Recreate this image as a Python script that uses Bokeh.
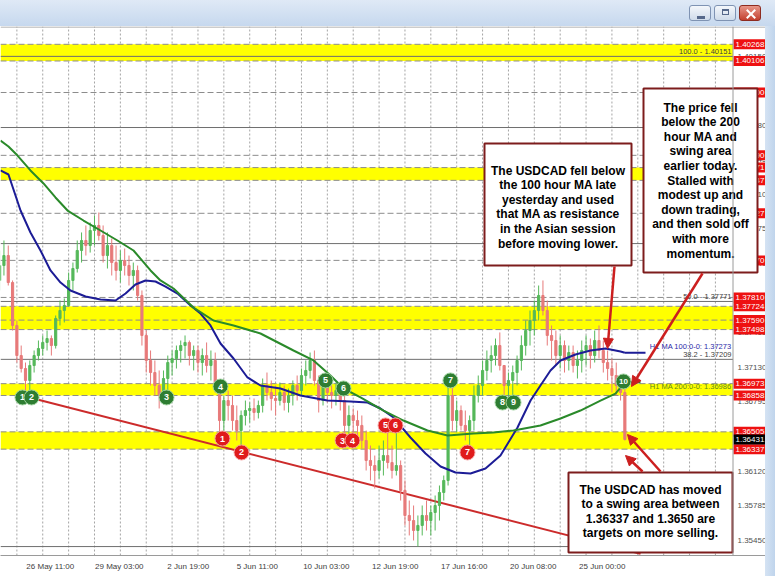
from bokeh.plotting import figure
from bokeh.models import ColumnDataSource, Arrow, NormalHead, FixedTicker, Div, Range1d, Span
from bokeh.layouts import column, row
from bokeh.embed import file_html
from bokeh.resources import INLINE
from bokeh.core.properties import value

FONT = value("Liberation Sans")

# ---------------- data ----------------
# 4-hour candles; hour index counted in trading hours from 26 May 11:00
bar_hours = list(range(-24, 557, 4))
first_open = 1.37975
bar_high = [1.38266, 1.38363,
            1.38314, 1.37975, 1.37586, 1.37343, 1.37178, 1.37198, 1.37295, 1.37392, 1.37441, 1.37489,
            1.37441, 1.37635, 1.37780, 1.37800, 1.38052, 1.38149, 1.38363, 1.38441, 1.38509, 1.38538,
            1.38606, 1.38635, 1.38509, 1.38441, 1.38382, 1.38314, 1.38266, 1.38285, 1.38217, 1.38149,
            1.38120, 1.37878, 1.37489, 1.37295, 1.37198, 1.37101, 1.37101, 1.37246, 1.37295, 1.37343,
            1.37392, 1.37441, 1.37392, 1.37343, 1.37343, 1.37314, 1.37373, 1.37295, 1.37275, 1.37004,
            1.36858, 1.36906, 1.36858, 1.36761, 1.36712, 1.36809, 1.36790, 1.36829, 1.36809, 1.37023,
            1.37081, 1.37004, 1.36955, 1.36984, 1.36955, 1.36926, 1.37004, 1.37052, 1.37120, 1.37198,
            1.37275, 1.37295, 1.37052, 1.37023, 1.37004, 1.36955, 1.36984, 1.36955, 1.36858, 1.36761,
            1.36732, 1.36712, 1.36664, 1.36518, 1.36372, 1.36275, 1.36372, 1.36421, 1.36567, 1.36372,
            1.36567, 1.36227, 1.36033, 1.35838, 1.35790, 1.35693, 1.35790, 1.35838, 1.35790, 1.35887,
            1.35984, 1.36081, 1.37004, 1.37023, 1.36809, 1.36761, 1.36712, 1.36664, 1.36955, 1.37052,
            1.37198, 1.37295, 1.37343, 1.37411, 1.37470, 1.37149, 1.37081, 1.37149, 1.37246, 1.37441,
            1.37586, 1.37683, 1.37780, 1.37926, 1.37975, 1.37780, 1.37538, 1.37489, 1.37441, 1.37392,
            1.37343, 1.37343, 1.37295, 1.37392, 1.37441, 1.37411, 1.37489, 1.37538, 1.37392, 1.37295,
            1.37217, 1.37178, 1.37052, 1.36955]
bar_low = [1.37878, 1.38023,
           1.37926, 1.37489, 1.37178, 1.37081, 1.36858, 1.36887, 1.37081, 1.37198, 1.37246, 1.37295,
           1.37246, 1.37314, 1.37538, 1.37567, 1.37722, 1.37878, 1.38052, 1.38149, 1.38217, 1.38246,
           1.38314, 1.38363, 1.38149, 1.38091, 1.38023, 1.37975, 1.37955, 1.38023, 1.37926, 1.37878,
           1.37780, 1.37343, 1.37081, 1.36955, 1.36858, 1.36732, 1.36809, 1.36887, 1.37052, 1.37120,
           1.37178, 1.37217, 1.37149, 1.37101, 1.37081, 1.37052, 1.37081, 1.37004, 1.36887, 1.36499,
           1.36518, 1.36615, 1.36518, 1.36421, 1.36372, 1.36567, 1.36596, 1.36615, 1.36635, 1.36693,
           1.36809, 1.36712, 1.36664, 1.36761, 1.36712, 1.36693, 1.36761, 1.36809, 1.36858, 1.36955,
           1.37023, 1.36955, 1.36693, 1.36761, 1.36790, 1.36732, 1.36761, 1.36712, 1.36440, 1.36421,
           1.36421, 1.36470, 1.36343, 1.36130, 1.36033, 1.35955, 1.36052, 1.36081, 1.36149, 1.36052,
           1.36081, 1.35838, 1.35596, 1.35499, 1.35450, 1.35392, 1.35499, 1.35547, 1.35499, 1.35547,
           1.35644, 1.35838, 1.35984, 1.36518, 1.36499, 1.36518, 1.36421, 1.36372, 1.36518, 1.36790,
           1.36858, 1.37004, 1.37081, 1.37149, 1.37101, 1.36829, 1.36829, 1.36858, 1.36955, 1.37101,
           1.37246, 1.37343, 1.37441, 1.37586, 1.37635, 1.37343, 1.37198, 1.37149, 1.37120, 1.37081,
           1.37101, 1.37081, 1.37023, 1.37081, 1.37149, 1.37120, 1.37178, 1.37217, 1.37081, 1.37004,
           1.36887, 1.36858, 1.36809, 1.36421]
bar_close = [1.38120, 1.38217,
             1.37955, 1.37538, 1.37246, 1.37120, 1.37004, 1.37149, 1.37246, 1.37314, 1.37373, 1.37411,
             1.37343, 1.37606, 1.37683, 1.37732, 1.37975, 1.38091, 1.38266, 1.38363, 1.38314, 1.38460,
             1.38509, 1.38412, 1.38217, 1.38314, 1.38149, 1.38072, 1.38169, 1.38120, 1.38023, 1.38072,
             1.37829, 1.37441, 1.37198, 1.37081, 1.36955, 1.36858, 1.37023, 1.37178, 1.37217, 1.37295,
             1.37343, 1.37373, 1.37246, 1.37295, 1.37178, 1.37246, 1.37149, 1.37198, 1.36955, 1.36615,
             1.36809, 1.36761, 1.36615, 1.36518, 1.36664, 1.36712, 1.36732, 1.36693, 1.36761, 1.36955,
             1.36887, 1.36829, 1.36809, 1.36887, 1.36790, 1.36858, 1.36955, 1.36906, 1.37052, 1.37101,
             1.37198, 1.37004, 1.36809, 1.36955, 1.36887, 1.36858, 1.36906, 1.36809, 1.36567, 1.36664,
             1.36615, 1.36567, 1.36421, 1.36227, 1.36178, 1.36130, 1.36227, 1.36275, 1.36207, 1.36130,
             1.36178, 1.35936, 1.35693, 1.35644, 1.35547, 1.35596, 1.35693, 1.35644, 1.35722, 1.35790,
             1.35916, 1.36033, 1.36858, 1.36615, 1.36712, 1.36567, 1.36518, 1.36615, 1.36858, 1.36955,
             1.37101, 1.37198, 1.37246, 1.37343, 1.37149, 1.36955, 1.37004, 1.37081, 1.37198, 1.37343,
             1.37489, 1.37586, 1.37683, 1.37829, 1.37683, 1.37441, 1.37392, 1.37246, 1.37343, 1.37198,
             1.37275, 1.37149, 1.37198, 1.37295, 1.37343, 1.37246, 1.37392, 1.37295, 1.37178, 1.37120,
             1.37052, 1.36955, 1.36887, 1.36431]

ma100_hours = [-23.2, -15.8, -4.6, 4.6, 13.9, 23.2, 32.5, 41.7, 55.7, 69.6, 83.5, 92.8, 102.0, 111.3, 120.6,
               129.9, 141.0, 153.1, 162.3, 171.6, 180.9, 193.0, 205.9, 218.0, 236.5, 255.1, 280.1,
               301.5, 317.3, 329.3, 341.4, 357.1, 371.1, 385.0, 398.9, 412.8, 426.7, 440.6, 456.4,
               468.5, 477.7, 487.0, 496.3, 510.2, 524.1, 538.0, 552.0, 556.0]
ma100 = [1.39043, 1.39004, 1.38654, 1.38441, 1.38266, 1.38072, 1.37955, 1.37878, 1.37819, 1.37790, 1.37780,
         1.37848, 1.37936, 1.37975, 1.37965, 1.37916, 1.37848, 1.37732, 1.37654, 1.37538, 1.37363,
         1.37217, 1.37033, 1.36955, 1.36926, 1.36858, 1.36809, 1.36800, 1.36790, 1.36732, 1.36644,
         1.36450, 1.36295, 1.36169, 1.36110, 1.36100, 1.36149, 1.36275, 1.36547, 1.36809, 1.36955,
         1.37101, 1.37198, 1.37256, 1.37295, 1.37314, 1.37285, 1.37273]
ma200_hours = [-23.2, -15.8, -7.4, 4.6, 16.7, 27.8, 39.0, 53.8, 69.6, 85.3, 100.2, 116.0, 125.2, 137.3, 155.8,
               174.4, 193.0, 218.0, 248.6, 267.2, 282.9, 295.0, 310.8, 332.1, 350.6, 372.9, 391.5,
               415.6, 434.1, 452.7, 477.7, 496.3, 514.8, 533.4, 547.3, 556.0]
ma200 = [1.39334, 1.39276, 1.39188, 1.39043, 1.38917, 1.38781, 1.38654, 1.38557, 1.38460, 1.38363, 1.38266,
         1.38072, 1.37975, 1.37897, 1.37712, 1.37586, 1.37538, 1.37460, 1.37295, 1.37198, 1.37052,
         1.36926, 1.36839, 1.36712, 1.36615, 1.36518, 1.36470, 1.36489, 1.36499, 1.36518, 1.36567,
         1.36635, 1.36712, 1.36809, 1.36877, 1.36986]
ma100_label = "H1 MA 100:0-0: 1.37273"
ma200_label = "H1 MA 200:0-0: 1.36986"

time_label_hours = [0, 64, 128, 192, 256, 320, 384, 448, 512]
time_labels = ["26 May 11:00", "29 May 03:00", "2 Jun 19:00", "5 Jun 11:00", "10 Jun 03:00",
               "12 Jun 19:00", "17 Jun 16:00", "20 Jun 08:00", "25 Jun 00:00"]

price_ticks = [1.35450, 1.35785, 1.36120, 1.36455, 1.36795, 1.37130, 1.37465, 1.37800, 1.38140,
               1.38475, 1.38810, 1.39145, 1.39480, 1.39815, 1.40150]
red_levels = [1.40268, 1.40106, 1.39800, 1.39190, 1.39071, 1.38947, 1.38627, 1.38170, 1.37810,
              1.37724, 1.37590, 1.37498, 1.36973, 1.36858, 1.36505, 1.36337]
current_price = 1.36431

zones = [(1.40268, 1.40106), (1.39071, 1.38947), (1.37724, 1.37498), (1.36973, 1.36858), (1.36505, 1.36337)]
single_lines = [1.39800, 1.39190, 1.38627, 1.38170, 1.37810, 1.37590]
fib_levels = [1.40151, 1.39460, 1.38333, 1.37771, 1.37209, 1.35391]
fib_labels = ["100.0 - 1.40151", "", "", "50.0 - 1.37771", "38.2 - 1.37209", ""]

trend_hours = [7.4, 570.5]
trend_prices = [1.36829, 1.35320]

green_hours = [-2.8, 5.6, 130.8, 180.9, 278.3, 295.0, 394.2, 442.5, 452.7, 554.7]
green_prices = [1.36839, 1.36839, 1.36839, 1.36945, 1.37004, 1.36926, 1.37004, 1.36790, 1.36790, 1.36994]
green_labels = ["1", "2", "3", "4", "5", "6", "7", "8", "9", "10"]
red_hours = [182.7, 200.4, 294.1, 303.3, 334.0, 343.2, 410.0]
red_prices = [1.36440, 1.36305, 1.36421, 1.36421, 1.36567, 1.36567, 1.36305]
red_labels = ["1", "2", "3", "4", "5", "6", "7"]

note_a = ["The USDCAD fell below", "the 100 hour MA late", "yesterday and used",
          "that MA as resistance", "in the Asian session", "before moving lower."]
note_b = ["The price fell", "below the 200", "hour MA and", "swing area", "earlier today.",
          "Stalled with", "modest up and", "down trading,", "and then sold off", "with more", "momentum."]
note_c = ["The USDCAD has moved", "to a swing area between", "1.36337 and 1.3650 are",
          "targets on more selling."]

# ---------------- layout helpers (screen pixel -> data) ----------------
X0_PX, PX_PER_HOUR = 25.0, 1.078
Y_TOP_PRICE, PRICE_PER_PX = 1.406934, 0.0000971


def hx(px):
    return (px - X0_PX) / PX_PER_HOUR


def py(px):
    return Y_TOP_PRICE - px * PRICE_PER_PX


FIG_W, FIG_H = 765, 550
XL, XR = hx(0), hx(FIG_W)
YB, YT = py(555), py(26)
CHART_R = hx(732.5)

p = figure(width=FIG_W, height=FIG_H, x_range=Range1d(XL, XR), y_range=Range1d(YB, YT),
           output_backend="svg", toolbar_location=None, y_axis_location=None,
           min_border_left=0, min_border_right=0, min_border_top=0, min_border_bottom=21)
p.grid.visible = False
p.outline_line_color = None
p.background_fill_color = "white"
p.border_fill_color = "white"

# bottom time axis
ax = p.xaxis[0]
ticks = [h + 23 for h in time_label_hours]
ax.ticker = FixedTicker(ticks=ticks)
ax.major_label_overrides = {t: lab for t, lab in zip(ticks, time_labels)}
ax.axis_line_color = "#9a9a9a"
ax.major_tick_out = 0
ax.major_tick_in = 0
ax.minor_tick_out = 0
ax.minor_tick_in = 0
ax.major_label_standoff = 6
ax.major_label_text_font = "Liberation Sans"
ax.major_label_text_font_size = "8px"
ax.major_label_text_color = "#404040"

# vertical dotted grid
grid_hours = list(range(-8, 650, 24))
p.segment(x0=grid_hours, y0=[YB] * len(grid_hours), x1=grid_hours, y1=[YT] * len(grid_hours),
          line_color="#a4a4a4", line_dash="2 2", line_width=1)

# yellow zones
p.quad(left=[XL] * len(zones), right=[CHART_R] * len(zones),
       top=[z[0] for z in zones], bottom=[z[1] for z in zones],
       fill_color="#ffff00", line_color=None)
edge_levels = [z[0] for z in zones] + [z[1] for z in zones] + single_lines
p.segment(x0=[XL] * len(edge_levels), x1=[CHART_R] * len(edge_levels), y0=edge_levels, y1=edge_levels,
          line_color="#8c8c8c", line_dash="6 3", line_width=1)
p.segment(x0=[XL] * len(fib_levels), x1=[CHART_R] * len(fib_levels), y0=fib_levels, y1=fib_levels,
          line_color="#6e6e6e", line_width=1)

# trend line
p.line(trend_hours, trend_prices, line_color="#cc2b2b", line_width=2)

# candles
opens = [first_open] + bar_close[:-1]
cols, tops, bots, his, los = [], [], [], [], []
for o, h, l, c in zip(opens, bar_high, bar_low, bar_close):
    cols.append("#55b85a" if c >= o else "#e77a7a")
    tops.append(max(o, c))
    bots.append(min(o, c))
    his.append(max(h, o, c))
    los.append(min(l, o, c))
csrc = ColumnDataSource(dict(t=bar_hours, top=tops, bottom=bots, hi=his, lo=los, color=cols))
p.segment(x0="t", x1="t", y0="lo", y1="hi", line_color="color", line_width=1, source=csrc)
p.vbar(x="t", width=2.0, top="top", bottom="bottom", fill_color="color", line_color="color", source=csrc)

# moving averages
p.line(ma100_hours, ma100, line_color="#1c1c96", line_width=2)
p.line([ma100_hours[-1], hx(645)], [ma100[-1], ma100[-1]], line_color="#1c1c96", line_width=2)
p.line(ma200_hours, ma200, line_color="#2a8a2a", line_width=2)
p.line([ma200_hours[-1], hx(640)], [ma200[-1], ma200[-1]], line_color="#2a8a2a", line_width=2)

LABEL_R = hx(731)
p.text([LABEL_R], [py(346)], text=[ma100_label], text_align="right", text_baseline="middle",
       text_font=FONT, text_font_size="7.5px", text_color="#2a2aa8")
p.text([LABEL_R], [py(386)], text=[ma200_label], text_align="right", text_baseline="middle",
       text_font=FONT, text_font_size="7.5px", text_color="#5f8a1c")
fx = [LABEL_R for lab in fib_labels if lab]
fy = [lv for lv, lab in zip(fib_levels, fib_labels) if lab]
ft = [lab for lab in fib_labels if lab]
p.text(fx, fy, text=ft, text_align="right", text_baseline="bottom",
       text_font=FONT, text_font_size="7.5px", text_color="#404040")

# swing markers
for h, pr, lab in zip(green_hours, green_prices, green_labels):
    p.scatter([h], [pr], size=15, marker="circle", fill_color="#2e7d32", line_color="#9fd29f", line_width=1)
    p.text([h], [pr], text=[lab], text_align="center", text_baseline="middle", text_color="white",
           text_font=FONT, text_font_style="bold", text_font_size="9px" if len(lab) == 1 else "8px")
for h, pr, lab in zip(red_hours, red_prices, red_labels):
    p.scatter([h], [pr], size=15, marker="circle", fill_color="#e01b1b", line_color="#f5a0a0", line_width=1)
    p.text([h], [pr], text=[lab], text_align="center", text_baseline="middle", text_color="white",
           text_font=FONT, text_font_style="bold", text_font_size="9px")

# price scale (right)
p.add_layout(Span(location=CHART_R, dimension="height", line_color="#9a9a9a", line_width=1))
p.add_layout(Span(location=py(26.5), dimension="width", line_color="#9a9a9a", line_width=1))
p.text([hx(737)] * len(price_ticks), price_ticks, text=["%.5f" % v for v in price_ticks],
       text_align="left", text_baseline="middle", text_font=FONT, text_font_size="8px",
       text_color="#505050")
box_x = (hx(733) + hx(766)) / 2
box_w = hx(766) - hx(733)
p.rect([box_x] * len(red_levels), red_levels, width=box_w, height=10, height_units="screen",
       fill_color="#ee1111", line_color=None)
p.text([hx(735)] * len(red_levels), red_levels, text=["%.5f" % v for v in red_levels],
       text_align="left", text_baseline="middle", text_font=FONT, text_font_size="8px", text_color="white")
p.rect([box_x], [current_price], width=box_w, height=10, height_units="screen",
       fill_color="black", line_color=None)
p.text([hx(735)], [current_price], text=["%.5f" % current_price], text_align="left",
       text_baseline="middle", text_font=FONT, text_font_size="8px", text_color="white")


# annotation boxes
def note(lines, left, right, top, bottom, first_line_y):
    p.quad(left=[hx(left)], right=[hx(right)], top=[py(top)], bottom=[py(bottom)],
           fill_color="white", line_color="#7d1c1c", line_width=2)
    cx = hx((left + right) / 2)
    ys = [py(first_line_y + 14.6 * i) for i in range(len(lines))]
    p.text([cx] * len(lines), ys, text=lines, text_align="center", text_baseline="middle",
           text_font=FONT, text_font_style="bold", text_font_size="12px", text_color="black")


note(note_a, 484, 631, 143, 265, 170)
note(note_b, 643, 757, 88, 272, 107)
note(note_c, 568, 732, 472, 552, 489)

ARROW_C = "#cc1f1f"
for (x0, y0, x1, y1) in [(614, 266, 607, 348), (702, 273, 631, 386), (660, 471, 627, 434), (642, 471, 625, 455)]:
    p.add_layout(Arrow(end=NormalHead(size=10, fill_color=ARROW_C, line_color=ARROW_C),
                       x_start=hx(x0), y_start=py(y0), x_end=hx(x1), y_end=py(y1),
                       line_color=ARROW_C, line_width=2.5))

# window chrome: title bar, right and bottom borders
btn = ("position:absolute;top:5px;width:22px;height:16px;border:1px solid #7f93b3;border-radius:3px;"
       "background:linear-gradient(#f4f7fb,#cfdbea);")
title_html = (
    '<div style="position:relative;width:775px;height:26px;'
    'background:linear-gradient(#dfe9f6,#c6d8ee);overflow:hidden;">'
    '<div style="' + btn + 'left:689px;"><div style="position:absolute;left:7px;top:10px;width:8px;'
    'height:3px;background:#56688a;"></div></div>'
    '<div style="' + btn + 'left:714px;"><div style="position:absolute;left:7px;top:3px;width:7px;'
    'height:6px;border:1px solid #56688a;border-top-width:2px;"></div></div>'
    '<div style="' + btn + 'left:739px;background:linear-gradient(#e8978a,#c3402f);border-color:#8e2b20;">'
    '<div style="position:absolute;left:10px;top:2px;width:2px;height:12px;background:white;'
    'transform:rotate(45deg);"></div><div style="position:absolute;left:10px;top:2px;width:2px;'
    'height:12px;background:white;transform:rotate(-45deg);"></div></div>'
    '</div>')
top_bar = Div(text=title_html, width=775, height=26, margin=(0, 0, 0, 0))
right_bar = Div(text='<div style="width:10px;height:550px;background:linear-gradient(to right,#d5e3f3,#bfd4ec);"></div>',
                width=10, height=FIG_H, margin=(0, 0, 0, 0))
bottom_bar = Div(text='<div style="width:775px;height:6px;background:#c6d9ef;"></div>',
                 width=775, height=6, margin=(0, 0, 0, 0))
p.margin = (0, 0, 0, 0)

layout = column(top_bar, row(p, right_bar, spacing=0), bottom_bar, spacing=0)
open("out.html", "w").write(file_html(layout, INLINE))
